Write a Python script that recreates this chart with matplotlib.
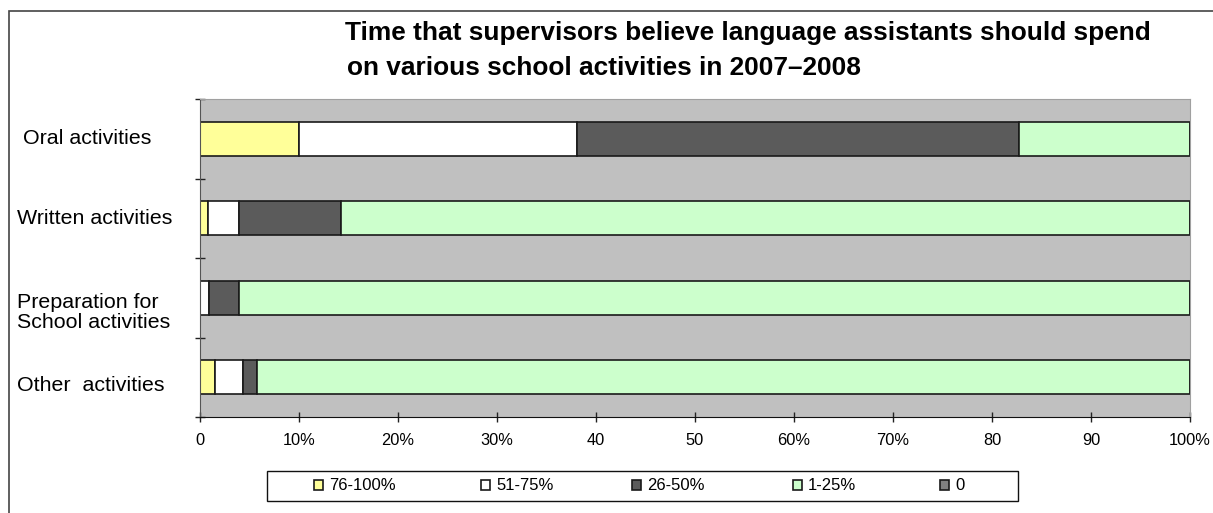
import matplotlib.pyplot as plt
import matplotlib.patches as mpatches
from matplotlib.transforms import blended_transform_factory
import numpy as np

plt.rcParams['font.family'] = ['Liberation Sans', 'DejaVu Sans']

categories = [" Oral activities", "Written activities",
              "Preparation for\nSchool activities", "Other  activities"]
series_names = ["76-100%", "51-75%", "26-50%", "1-25%", "0"]
s_76_100 = [10.0, 0.8, 0.0, 1.5]
s_51_75 = [28.1, 3.1, 0.9, 2.8]
s_26_50 = [44.6, 10.3, 3.0, 1.5]
s_1_25 = [17.3, 85.8, 96.1, 94.2]
s_0 = [0.0, 0.0, 0.0, 0.0]
xtick_labels = ["0", "10%", "20%", "30%", "40", "50", "60%", "70%", "80", "90", "100%"]

colors = ["#FFFF99", "#FFFFFF", "#5B5B5B", "#CCFFCC", "#808080"]

W, H = 1213, 513
fig = plt.figure(figsize=(W / 100, H / 100), dpi=100)
ax = fig.add_axes([200 / W, 1 - 417 / H, 990 / W, 318 / H])
ax.set_facecolor("#C0C0C0")

y = np.arange(len(categories))
left = np.zeros(len(categories))
handles = []
for name, vals, c in zip(series_names, [s_76_100, s_51_75, s_26_50, s_1_25, s_0], colors):
    vals = np.array(vals)
    h = ax.barh(y, vals, left=left, height=0.43, color=c, edgecolor="#1a1a1a",
                linewidth=1.2, label=name)
    handles.append(h)
    left += vals

ax.set_xlim(0, 100)
ax.set_ylim(len(categories) - 0.5, -0.5)
ax.set_xticks(np.arange(0, 101, 10))
ax.set_xticklabels(xtick_labels, fontsize=11.8)
ax.set_yticks(np.arange(-0.5, len(categories), 1))
ax.set_yticklabels([])
ax.tick_params(axis="both", direction="inout", length=7, width=1, color="#222222")
ax.tick_params(axis="x", pad=8)

for s in ["top", "right"]:
    ax.spines[s].set_color("#A0A0A0")
ax.spines["left"].set_color("#555555")
ax.spines["bottom"].set_color("#111111")

# category labels, left aligned at the chart edge
label_shift = [0.0, 0.0, 0.19, 0.1]
tr = blended_transform_factory(fig.transFigure, ax.transData)
for i, cat in enumerate(categories):
    ax.text(17 / W, i + label_shift[i], cat, transform=tr, ha="left", va="center",
            fontsize=15.4, multialignment="left", linespacing=1.08)

# title
fig.text(345 / W, 1 - 33 / H, "Time that supervisors believe language assistants should spend",
         fontsize=18.9, fontweight="bold", ha="left", va="center")
fig.text(347 / W, 1 - 68 / H, "on various school activities in 2007\u20132008",
         fontsize=18.9, fontweight="bold", ha="left", va="center")

# legend box and entries
fig.patches.append(mpatches.Rectangle((267 / W, 1 - 501 / H), 751 / W, 30 / H,
                                      transform=fig.transFigure, fill=False,
                                      edgecolor="#111111", linewidth=1))
entry_x = [314, 481, 632, 793, 940]
for hnd, name, ex in zip(handles, series_names, entry_x):
    fig.legend([hnd], [name], loc="center left", bbox_to_anchor=(ex / W, 1 - 486 / H),
               frameon=False, fontsize=12, handlelength=0.55, handleheight=0.55,
               handletextpad=0.35, borderpad=0, borderaxespad=0)

# outer frame
fig.patches.append(mpatches.Rectangle((9 / W, -0.1), 1.2, 1.1 - 11 / H,
                                      transform=fig.transFigure, fill=False,
                                      edgecolor="#444444", linewidth=1.2))

fig.savefig("out.png", dpi=100)
